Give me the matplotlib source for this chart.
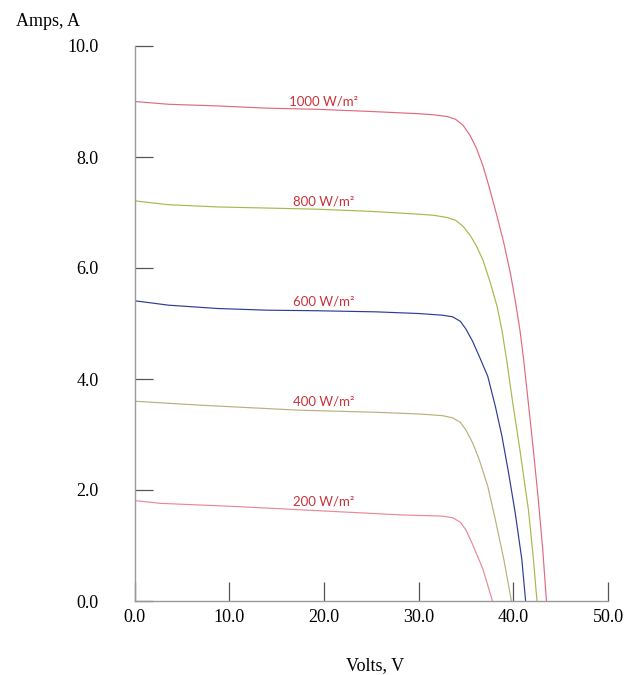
import matplotlib
matplotlib.use("Agg")
import matplotlib.pyplot as plt

# Data: I-V curves (Volts, Amps)
v_1000 = [0, 3.6, 8.8, 14, 19.2, 25, 30, 31.6, 33.0, 33.9, 34.7, 35.4, 36.1, 36.8, 37.5, 38.3, 39.0, 39.7, 40.2, 40.7, 41.1, 41.6, 42.1, 42.6, 43.1, 43.5]
i_1000 = [9.0, 8.95, 8.92, 8.88, 8.86, 8.82, 8.78, 8.76, 8.73, 8.68, 8.57, 8.40, 8.16, 7.84, 7.43, 6.92, 6.45, 5.9, 5.42, 4.88, 4.34, 3.55, 2.75, 1.9, 0.95, 0.0]

v_800 = [0, 3.6, 8.8, 14, 19.2, 25, 30, 31.6, 33.0, 33.9, 34.7, 35.4, 36.1, 36.8, 37.6, 38.3, 38.8, 39.3, 39.9, 40.7, 41.6, 42.1, 42.5]
i_800 = [7.21, 7.14, 7.10, 7.08, 7.06, 7.02, 6.97, 6.95, 6.91, 6.86, 6.75, 6.60, 6.40, 6.14, 5.72, 5.30, 4.88, 4.34, 3.62, 2.72, 1.64, 0.8, 0.0]

v_600 = [0, 3.6, 8.8, 14, 19.2, 25.5, 30, 32.5, 33.6, 34.4, 35.0, 35.7, 36.4, 37.3, 38.1, 38.8, 39.5, 40.2, 40.9, 41.3]
i_600 = [5.41, 5.33, 5.27, 5.24, 5.23, 5.21, 5.18, 5.15, 5.12, 5.04, 4.90, 4.68, 4.41, 4.05, 3.51, 2.97, 2.31, 1.59, 0.75, 0.0]

v_400 = [0, 0.9, 6.8, 17.1, 25.5, 30, 32.5, 33.6, 34.4, 35.0, 35.7, 36.4, 37.3, 38.1, 39.0, 39.8]
i_400 = [3.6, 3.59, 3.53, 3.44, 3.40, 3.37, 3.34, 3.30, 3.22, 3.08, 2.85, 2.55, 2.07, 1.47, 0.75, 0.0]

v_200 = [0, 2.7, 11.0, 21.4, 28.3, 32.5, 33.6, 34.4, 35.0, 35.7, 36.8, 37.8]
i_200 = [1.81, 1.76, 1.70, 1.61, 1.55, 1.53, 1.50, 1.42, 1.28, 1.02, 0.57, 0.0]

labels = ["1000 W/m²", "800 W/m²", "600 W/m²", "400 W/m²", "200 W/m²"]
label_y = [9.0, 7.2, 5.4, 3.6, 1.8]
label_x = 20.0

x_ticks = [0, 10, 20, 30, 40, 50]
y_ticks = [0, 2, 4, 6, 8, 10]

curves = [(v_1000, i_1000, "#df6b80"),
          (v_800, i_800, "#a9b84a"),
          (v_600, i_600, "#2c3c94"),
          (v_400, i_400, "#b9b07e"),
          (v_200, i_200, "#e8899a")]

fig = plt.figure(figsize=(6.33, 6.75), dpi=100)
L, R, T, B = 134.5, 608, 46, 601
ax = fig.add_axes([L / 633, (675 - B) / 675, (R - L) / 633, (B - T) / 675])

for v, i, c in curves:
    ax.plot(v, i, color=c, lw=0.85, solid_capstyle="round", solid_joinstyle="round")

for lab, ly in zip(labels, label_y):
    ax.text(label_x, ly, lab, color="#c8323c", fontsize=9.5, family="Lato",
            ha="center", va="center")

ax.set_xlim(0, 50)
ax.set_ylim(0, 10)
ax.set_xticks(x_ticks)
ax.set_yticks(y_ticks)
ax.set_xticklabels([f"{t:.1f}" for t in x_ticks], family="Liberation Serif", fontsize=13)
ax.set_yticklabels([f"{t:.1f}" for t in y_ticks], family="Liberation Serif", fontsize=13)
ax.tick_params(axis="x", direction="in", length=14, width=0.9, color="#555555", pad=6)
ax.tick_params(axis="y", direction="in", length=13, width=0.9, color="#555555", pad=26)
for lbl in ax.get_yticklabels():
    lbl.set_horizontalalignment("right")

for s in ["top", "right"]:
    ax.spines[s].set_visible(False)
for s in ["left", "bottom"]:
    ax.spines[s].set_color("#999999")
    ax.spines[s].set_linewidth(1.0)

fig.text(48 / 633, 1 - 22 / 675, "Amps, A", family="Liberation Serif", fontsize=13,
         ha="center", va="center")
fig.text(375 / 633, 1 - 666 / 675, "Volts, V", family="Liberation Serif", fontsize=13,
         ha="center", va="center")

fig.savefig("out.png", dpi=100, facecolor="white")
